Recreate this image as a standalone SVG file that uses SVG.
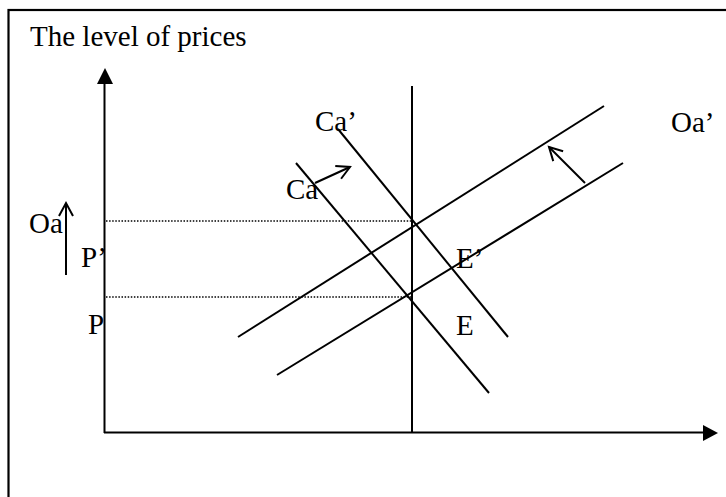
<svg xmlns="http://www.w3.org/2000/svg" width="726" height="497" viewBox="0 0 726 497">
<style>
.t{font-family:"Liberation Serif","Times New Roman",serif;font-size:29px;fill:#000}
.ln{stroke:#000;stroke-width:2;fill:none;stroke-linecap:butt}
.dot{stroke:#000;stroke-width:1.3;stroke-dasharray:1.5 1.6;fill:none}
.open{stroke:#000;stroke-width:2;fill:none}
</style>
<defs>
<marker id="openArrow" markerWidth="18" markerHeight="18" refX="15" refY="9" orient="auto" markerUnits="userSpaceOnUse">
<path d="M2,2 L15,9 L2,16" class="open"/>
</marker>
</defs>
<rect x="0" y="0" width="726" height="497" fill="#fff"/>
<rect id="frame" x="8.5" y="10" width="800" height="600" fill="none" stroke="#000" stroke-width="2.2"/>
<g id="title"><text class="t" x="30" y="46">The level of prices</text></g>
<g id="axes">
<line class="ln" x1="104.5" y1="80" x2="104.5" y2="433"/>
<polygon points="105,68 97,84 113,84" fill="#000"/>
<line class="ln" x1="104" y1="432.5" x2="706" y2="432.5"/>
<polygon points="718,433 703,425 703,441" fill="#000"/>
</g>
<g id="connectors">
<line class="ln" x1="412" y1="86" x2="412" y2="432"/>
<line class="dot" x1="106" y1="221" x2="412" y2="221"/>
<line class="dot" x1="106" y1="297" x2="412" y2="297"/>
<line id="supplyUp" class="ln" x1="238" y1="337" x2="604" y2="106"/>
<line id="supply" class="ln" x1="277" y1="375" x2="623" y2="163"/>
<line id="demandUp" class="ln" x1="338" y1="129" x2="508" y2="337"/>
<line id="demand" class="ln" x1="296" y1="163" x2="489" y2="393"/>
<line class="ln" x1="315" y1="183" x2="350" y2="167" marker-end="url(#openArrow)"/>
<line class="ln" x1="585" y1="183" x2="549" y2="147" marker-end="url(#openArrow)"/>
<line class="ln" x1="66" y1="275" x2="66" y2="203" marker-end="url(#openArrow)"/>
</g>
<g id="labels">
<text class="t" x="315" y="131">Ca’</text>
<text class="t" x="286" y="199">Ca</text>
<text class="t" x="671" y="132">Oa’</text>
<text class="t" x="29" y="233">Oa</text>
<text class="t" x="81" y="267">P’</text>
<text class="t" x="88" y="334">P</text>
<text class="t" x="456" y="268">E’</text>
<text class="t" x="456" y="335">E</text>
</g>
</svg>
